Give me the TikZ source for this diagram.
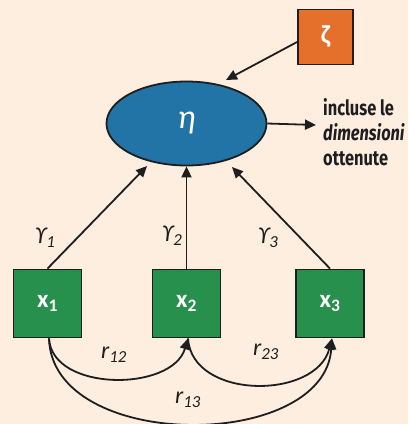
\documentclass[tikz,border=0pt]{standalone}
\usepackage{fontspec}
\setmainfont{Carlito}
\newfontfamily\condfont[FakeStretch=0.78]{Fira Sans}
\usetikzlibrary{arrows.meta,shapes.geometric}
\definecolor{bgc}{HTML}{FDEEE0}
\definecolor{blueC}{HTML}{2273A6}
\definecolor{orangeC}{HTML}{E4702C}
\definecolor{greenC}{HTML}{28904D}
\definecolor{lineC}{HTML}{1E1E1E}
\tikzset{
  xbox/.style={draw=lineC,line width=1.8pt,fill=greenC,minimum width=68pt,minimum height=68pt,inner sep=0pt,text=white,font=\fontsize{25}{25}\selectfont\bfseries},
  conn/.style={draw=lineC,line width=1.8pt,-{Triangle[length=11pt,width=10pt]}},
  lab/.style={font=\fontsize{24}{24}\selectfont\itshape,text=lineC,inner sep=0pt}
}
\begin{document}
\begin{tikzpicture}[x=1pt,y=-1pt]
\fill[bgc] (0,0) rectangle (408,424);
\useasboundingbox (0,0) rectangle (408,424);
\node[ellipse,draw=lineC,line width=1.8pt,fill=blueC,minimum width=160pt,minimum height=84pt,inner sep=0pt,text=white,font=\fontsize{34}{34}\selectfont\itshape] (eta) at (186.5,123.5) {η};
\node[draw=lineC,line width=1.8pt,fill=orangeC,minimum width=55pt,minimum height=55pt,inner sep=0pt,text=white,font=\fontsize{26}{26}\selectfont\bfseries] (zeta) at (325.5,37) {ζ};
\node[xbox] (x1) at (47.5,303.5) {x\textsubscript{1}};
\node[xbox] (x2) at (186.5,303.5) {x\textsubscript{2}};
\node[xbox] (x3) at (330,303.5) {x\textsubscript{3}};
\coordinate (zs) at (298,42);
\coordinate (et) at (226,80);
\coordinate (out) at (316,125);
\draw[conn] (zeta.west |- zs) -- (et);
\draw[conn] (eta.east) -- (out);
\node[anchor=base west,align=left,inner sep=0pt,font=\condfont\fontsize{21}{25}\selectfont\bfseries,text=lineC] (txt) at (323,165) {incluse le\\\textit{dimensioni}\\ottenute};
\draw[conn] (x1.north) -- (147,166);
\draw[conn] (x2.north) -- (eta.south);
\draw[conn] (x3.north) -- (232,167);
\node[lab] (g1) at (45,238) {ϒ\textsubscript{1}};
\node[lab] (g2) at (172,236) {ϒ\textsubscript{2}};
\node[lab] (g3) at (268,238) {ϒ\textsubscript{3}};
\draw[conn] ([xshift=1.5pt]x1.south) .. controls (52,392) and (172,392) .. ([xshift=1.5pt]x2.south);
\draw[conn] ([xshift=1.5pt]x2.south) .. controls (192,400) and (316,400) .. ([xshift=2pt]x3.south);
\draw[conn] ([xshift=1.5pt]x1.south) .. controls (52,452) and (324,452) .. ([xshift=2pt]x3.south);
\node[lab] (r12) at (114,355) {r\textsubscript{12}};
\node[lab] (r23) at (266,352) {r\textsubscript{23}};
\node[lab] (r13) at (188,400) {r\textsubscript{13}};
\end{tikzpicture}
\end{document}
